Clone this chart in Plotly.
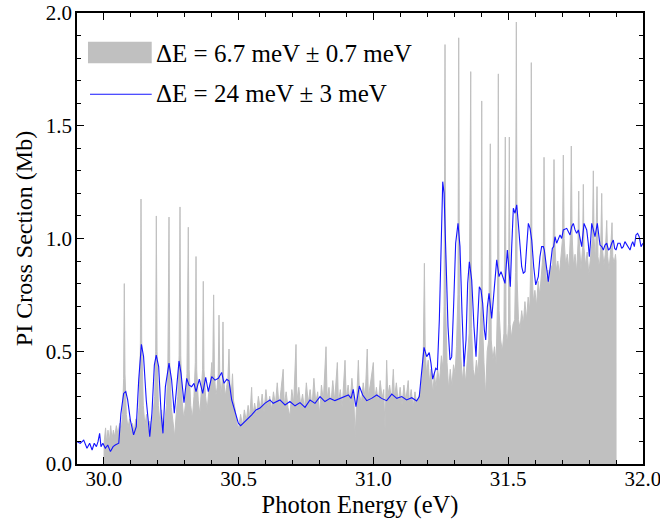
import plotly.graph_objects as go

# ---------------- data (photon energy eV, cross section Mb) ----------------
# High-resolution spectrum (dE = 6.7 meV)
gray_left = [
    (30.000, 0.00), (30.001, 0.10), (30.006, 0.16), (30.010, 0.09), (30.015, 0.15),
    (30.020, 0.10), (30.025, 0.17), (30.030, 0.11), (30.035, 0.15), (30.040, 0.12),
    (30.046, 0.17), (30.052, 0.13), (30.058, 0.18), (30.064, 0.15), (30.069, 0.22),
    (30.073, 0.38), (30.0755, 0.80), (30.078, 0.40), (30.083, 0.22), (30.089, 0.16),
    (30.095, 0.20), (30.100, 0.12), (30.106, 0.18), (30.112, 0.14), (30.118, 0.20),
    (30.124, 0.16), (30.130, 0.25), (30.135, 0.50), (30.1375, 1.175), (30.140, 0.55),
    (30.146, 0.26), (30.152, 0.17), (30.158, 0.22), (30.164, 0.13), (30.170, 0.19),
    (30.176, 0.15), (30.182, 0.22), (30.188, 0.30), (30.192, 0.50), (30.1943, 1.10),
    (30.197, 0.50), (30.202, 0.26), (30.208, 0.18), (30.214, 0.24), (30.220, 0.12),
    (30.226, 0.20), (30.232, 0.26), (30.237, 0.42), (30.2414, 1.095), (30.244, 0.45),
    (30.250, 0.25), (30.256, 0.19), (30.262, 0.12), (30.268, 0.22), (30.274, 0.30),
    (30.279, 0.48), (30.2822, 1.14), (30.285, 0.48), (30.290, 0.28), (30.296, 0.20),
    (30.302, 0.26), (30.308, 0.40), (30.313, 1.05), (30.316, 0.42), (30.322, 0.26),
    (30.328, 0.20), (30.334, 0.30), (30.339, 0.45), (30.3416, 0.92), (30.344, 0.42),
    (30.350, 0.28), (30.356, 0.22), (30.361, 0.32), (30.366, 0.42), (30.3686, 0.81),
    (30.371, 0.42), (30.377, 0.30), (30.383, 0.24), (30.389, 0.32), (30.395, 0.36),
    (30.400, 0.45), (30.403, 0.35), (30.407, 0.75), (30.410, 0.40), (30.415, 0.30),
    (30.420, 0.34), (30.424, 0.40), (30.4269, 0.66), (30.430, 0.38), (30.435, 0.30),
    (30.439, 0.38), (30.4417, 0.63), (30.444, 0.38), (30.450, 0.30), (30.455, 0.34),
    (30.460, 0.38), (30.464, 0.51), (30.467, 0.36), (30.472, 0.30), (30.477, 0.40),
    (30.481, 0.28), (30.487, 0.24), (30.493, 0.18),
]
gray_mid = [
    (30.500, 0.16), (30.507, 0.22), (30.514, 0.17), (30.521, 0.24), (30.528, 0.19),
    (30.535, 0.26), (30.541, 0.20), (30.548, 0.34), (30.552, 0.21), (30.559, 0.27),
    (30.566, 0.22), (30.573, 0.30), (30.580, 0.24), (30.587, 0.31), (30.594, 0.23),
    (30.601, 0.33), (30.608, 0.25), (30.615, 0.30), (30.622, 0.24), (30.629, 0.32),
    (30.636, 0.26), (30.643, 0.36), (30.650, 0.25), (30.657, 0.33), (30.665, 0.42),
    (30.669, 0.26), (30.676, 0.32), (30.683, 0.25), (30.690, 0.21), (30.697, 0.33),
    (30.704, 0.27), (30.7126, 0.53), (30.716, 0.28), (30.723, 0.34), (30.730, 0.26),
    (30.737, 0.31), (30.744, 0.24), (30.751, 0.36), (30.758, 0.27), (30.765, 0.33),
    (30.772, 0.25), (30.779, 0.38), (30.786, 0.27), (30.793, 0.32), (30.800, 0.22),
    (30.807, 0.35), (30.814, 0.28), (30.824, 0.52), (30.828, 0.29), (30.835, 0.34),
    (30.842, 0.26), (30.849, 0.37), (30.856, 0.28), (30.866, 0.45), (30.870, 0.27),
    (30.877, 0.33), (30.884, 0.25), (30.8945, 0.46), (30.899, 0.29), (30.906, 0.35),
    (30.913, 0.27), (30.920, 0.38), (30.927, 0.29), (30.932, 0.12), (30.937, 0.30),
    (30.944, 0.46), (30.948, 0.31), (30.955, 0.27), (30.962, 0.36), (30.969, 0.29),
    (30.977, 0.51), (30.981, 0.30), (30.988, 0.35), (30.9995, 0.45), (31.004, 0.28),
    (31.011, 0.34), (31.018, 0.27), (31.025, 0.37), (31.032, 0.29), (31.038, 0.33),
    (31.043, 0.15), (31.049, 0.46), (31.053, 0.30), (31.060, 0.35), (31.067, 0.28),
    (31.0737, 0.42), (31.078, 0.29), (31.085, 0.36), (31.092, 0.27), (31.099, 0.34),
    (31.106, 0.26), (31.113, 0.35), (31.120, 0.28), (31.129, 0.37), (31.133, 0.27),
    (31.140, 0.33), (31.147, 0.25), (31.154, 0.32), (31.161, 0.26), (31.168, 0.30),
    (31.175, 0.33),
]
gray_right = [
    (31.180, 0.38), (31.185, 0.50), (31.189, 0.89), (31.192, 0.50), (31.197, 0.40),
    (31.203, 0.46), (31.208, 0.36), (31.214, 0.42), (31.220, 0.31), (31.226, 0.40),
    (31.232, 0.34), (31.238, 0.42), (31.245, 0.36), (31.252, 0.48), (31.258, 0.42),
    (31.262, 0.70), (31.2655, 1.86), (31.268, 0.70), (31.273, 0.45), (31.279, 0.33),
    (31.285, 0.42), (31.291, 0.34), (31.297, 0.44), (31.303, 0.40), (31.308, 0.52),
    (31.3135, 0.75), (31.3163, 1.89), (31.319, 0.75), (31.324, 0.48), (31.330, 0.37),
    (31.336, 0.44), (31.342, 0.36), (31.348, 0.46), (31.355, 0.58), (31.3609, 1.74),
    (31.364, 0.60), (31.370, 0.42), (31.376, 0.38), (31.382, 0.46), (31.388, 0.40),
    (31.394, 0.55), (31.3995, 0.70), (31.4017, 1.61), (31.404, 0.65), (31.410, 0.45),
    (31.416, 0.30), (31.422, 0.50), (31.428, 0.55), (31.4336, 1.42), (31.437, 0.55),
    (31.443, 0.46), (31.449, 0.52), (31.455, 0.44), (31.460, 0.70), (31.4633, 1.73),
    (31.466, 0.68), (31.472, 0.55), (31.478, 0.50), (31.484, 0.58), (31.4892, 1.45),
    (31.492, 0.58), (31.497, 0.54), (31.501, 0.62), (31.5041, 1.45), (31.507, 0.62),
    (31.512, 0.56), (31.518, 0.62), (31.524, 0.64), (31.527, 0.85), (31.5301, 1.96),
    (31.533, 0.82), (31.538, 0.64), (31.544, 0.60), (31.550, 0.68), (31.556, 0.62),
    (31.562, 0.72), (31.568, 0.64), (31.574, 0.74), (31.580, 0.68), (31.5835, 0.90),
    (31.5857, 1.78), (31.588, 0.90), (31.593, 0.72), (31.599, 0.77), (31.605, 0.70),
    (31.611, 0.81), (31.617, 0.75), (31.623, 0.83), (31.6305, 0.95), (31.6329, 1.36),
    (31.6355, 0.95), (31.641, 0.80), (31.647, 0.86), (31.653, 0.78), (31.659, 0.88),
    (31.664, 0.84), (31.667, 0.98), (31.6699, 1.35), (31.673, 0.98), (31.678, 0.86),
    (31.684, 0.90), (31.690, 0.84), (31.696, 0.92), (31.7015, 1.00), (31.7045, 1.37),
    (31.7075, 1.00), (31.713, 0.88), (31.719, 0.93), (31.725, 0.86), (31.731, 1.02),
    (31.7341, 1.41), (31.737, 1.02), (31.742, 0.88), (31.748, 0.93), (31.754, 0.85),
    (31.759, 0.98), (31.7616, 1.21), (31.764, 0.98), (31.770, 0.86), (31.776, 0.96),
    (31.7787, 1.24), (31.781, 0.96), (31.787, 0.88), (31.793, 0.94), (31.799, 0.84),
    (31.805, 0.92), (31.8125, 1.00), (31.8158, 1.30), (31.8185, 1.00), (31.824, 0.90),
    (31.8295, 1.23), (31.833, 0.92), (31.838, 0.87), (31.843, 0.95), (31.8469, 1.20),
    (31.850, 0.95), (31.855, 0.88), (31.860, 0.93), (31.8655, 1.08), (31.869, 0.92),
    (31.874, 0.86), (31.879, 0.93), (31.8852, 1.07), (31.888, 0.92), (31.893, 0.89),
    (31.898, 0.93), (31.900, 0.90), (31.9001, 0.00),
]

# Lower-resolution spectrum (dE = 24 meV)
blue_left = [
    (29.900, 0.099), (29.912, 0.092), (29.925, 0.106), (29.937, 0.070), (29.947, 0.092),
    (29.956, 0.062), (29.964, 0.092), (29.972, 0.077), (29.978, 0.099), (29.984, 0.136),
    (29.989, 0.077), (29.996, 0.092), (30.005, 0.070), (30.014, 0.084), (30.024, 0.055),
    (30.034, 0.077), (30.042, 0.084), (30.055, 0.092), (30.063, 0.225), (30.073, 0.313),
    (30.081, 0.321), (30.088, 0.284), (30.098, 0.195), (30.110, 0.129), (30.120, 0.166),
    (30.129, 0.373), (30.139, 0.531), (30.147, 0.476), (30.157, 0.284), (30.170, 0.121),
    (30.178, 0.225), (30.187, 0.439), (30.194, 0.483), (30.203, 0.432), (30.212, 0.225),
    (30.219, 0.136), (30.228, 0.343), (30.2414, 0.447), (30.251, 0.373), (30.261, 0.225),
    (30.270, 0.343), (30.2785, 0.457), (30.286, 0.402), (30.297, 0.272), (30.307, 0.380),
    (30.3156, 0.350), (30.3255, 0.343), (30.334, 0.358), (30.3416, 0.321), (30.3539, 0.376),
    (30.3664, 0.313), (30.3775, 0.384), (30.3873, 0.321), (30.3998, 0.387), (30.412, 0.372),
    (30.4244, 0.380), (30.4369, 0.406), (30.4455, 0.358), (30.4555, 0.376), (30.464, 0.369),
    (30.474, 0.284), (30.4889, 0.225), (30.4986, 0.181), (30.5074, 0.170),
]
blue_mid = [
    (30.5234, 0.188), (30.536, 0.203), (30.5482, 0.218), (30.564, 0.240), (30.579, 0.248),
    (30.598, 0.270), (30.616, 0.284), (30.628, 0.269), (30.653, 0.284), (30.672, 0.262),
    (30.690, 0.277), (30.709, 0.258), (30.7275, 0.272), (30.746, 0.251), (30.7646, 0.284),
    (30.783, 0.269), (30.8017, 0.299), (30.820, 0.277), (30.839, 0.291), (30.857, 0.281),
    (30.876, 0.291), (30.8945, 0.302), (30.907, 0.306), (30.917, 0.291), (30.925, 0.331),
    (30.935, 0.254), (30.9475, 0.346), (30.960, 0.306), (30.975, 0.281), (30.993, 0.291),
    (31.012, 0.306), (31.030, 0.291), (31.049, 0.281), (31.068, 0.310), (31.0865, 0.291),
    (31.105, 0.299), (31.123, 0.284), (31.142, 0.294), (31.1605, 0.280), (31.170, 0.299),
]
blue_right = [
    (31.179, 0.417), (31.1876, 0.517), (31.1975, 0.476), (31.207, 0.494), (31.2135, 0.446),
    (31.2199, 0.376), (31.231, 0.424), (31.237, 0.417), (31.2444, 0.639), (31.2507, 1.008),
    (31.257, 1.252), (31.262, 1.200), (31.2692, 0.934), (31.2766, 0.609), (31.284, 0.461),
    (31.2902, 0.475), (31.2977, 0.712), (31.305, 0.979), (31.3137, 1.067), (31.321, 0.964),
    (31.3286, 0.668), (31.336, 0.432), (31.3434, 0.550), (31.3496, 0.801), (31.3558, 0.897),
    (31.3645, 0.816), (31.373, 0.609), (31.3805, 0.476), (31.3867, 0.639), (31.3928, 0.786),
    (31.399, 0.772), (31.4053, 0.712), (31.4115, 0.594), (31.4165, 0.550), (31.4226, 0.697),
    (31.4288, 0.757), (31.4387, 0.646), (31.4484, 0.786), (31.4573, 0.905), (31.4659, 0.831),
    (31.4733, 0.853), (31.4819, 0.823), (31.4881, 0.801), (31.4968, 0.949), (31.5029, 0.875),
    (31.5078, 0.786), (31.513, 0.964), (31.519, 1.134), (31.5252, 1.112), (31.5315, 1.149),
    (31.5375, 1.067), (31.5438, 0.949), (31.550, 0.875), (31.556, 0.846), (31.5623, 0.853),
    (31.5685, 0.964), (31.5747, 1.067), (31.581, 1.045), (31.5872, 0.993), (31.5946, 0.875),
    (31.602, 0.794), (31.6117, 0.831), (31.6178, 0.920), (31.624, 0.964), (31.6303, 0.964),
    (31.634, 0.949), (31.641, 0.890), (31.6488, 0.809), (31.656, 0.875), (31.6636, 0.956),
    (31.6686, 0.964), (31.6736, 1.008), (31.6797, 0.979), (31.686, 1.000), (31.6922, 1.016),
    (31.6983, 1.000), (31.7045, 1.038), (31.7171, 1.045), (31.7293, 1.016), (31.7355, 1.053),
    (31.7416, 1.067), (31.748, 1.038), (31.754, 1.023), (31.7603, 1.038), (31.7664, 1.008),
    (31.7727, 0.964), (31.7813, 1.067), (31.7913, 1.038), (31.797, 0.979), (31.801, 0.919),
    (31.806, 0.993), (31.8098, 1.067), (31.816, 1.038), (31.822, 1.008), (31.8306, 1.067),
    (31.835, 1.023), (31.8406, 0.971), (31.847, 0.964), (31.853, 0.949), (31.859, 0.971),
    (31.8655, 0.979), (31.872, 0.949), (31.8778, 0.956), (31.884, 0.979), (31.890, 0.993),
    (31.895, 0.956), (31.900, 0.949), (31.907, 0.979), (31.915, 0.979), (31.921, 0.956),
    (31.927, 0.964), (31.933, 0.986), (31.9396, 0.971), (31.946, 0.956), (31.952, 0.949),
    (31.957, 0.971), (31.962, 0.986), (31.968, 0.964), (31.974, 1.016), (31.980, 1.023),
    (31.986, 1.008), (31.9928, 0.964), (32.000, 0.979),
]

label_hi = "ΔE = 6.7 meV ± 0.7 meV"
label_lo = "ΔE = 24 meV ± 3 meV"
x_title = "Photon Energy (eV)"
y_title = "PI Cross Section (Mb)"
x_ticks = [30.0, 30.5, 31.0, 31.5, 32.0]
x_ticktext = ["30.0", "30.5", "31.0", "31.5", "32.0"]

# ---------------- build ----------------
gray = gray_left + gray_mid + gray_right
blue = blue_left + blue_mid + blue_right
gx = [p[0] for p in gray]
gy = [p[1] for p in gray]
bx = [p[0] for p in blue]
by = [p[1] for p in blue]

FONT = "Liberation Serif"
GRAY = "#c0c0c0"
BLUE = "#1414ff"

fig = go.Figure()
fig.add_trace(go.Scatter(x=gx, y=gy, mode="lines", fill="tozeroy",
                         fillcolor=GRAY, line=dict(color=GRAY, width=1),
                         name=label_hi, showlegend=False, hoverinfo="skip"))
fig.add_trace(go.Scatter(x=bx, y=by, mode="lines",
                         line=dict(color=BLUE, width=1.1),
                         name=label_lo, showlegend=False, hoverinfo="skip"))

axis_common = dict(showline=True, linecolor="black", linewidth=1.5, mirror="ticks",
                   ticks="inside", ticklen=7, tickwidth=1.2, tickcolor="black",
                   showgrid=False, zeroline=False, automargin=False,
                   ticklabeloverflow="allow",
                   tickfont=dict(family=FONT, size=21, color="black"))

fig.update_xaxes(range=[29.9, 32.0001], tickmode="array", tickvals=x_ticks,
                 ticktext=x_ticktext,
                 ticklabelstandoff=-5,
                 minor=dict(ticks="inside", ticklen=4, dtick=0.1, tick0=30.0,
                            tickcolor="black", tickwidth=1),
                 title=dict(text=x_title, font=dict(family=FONT, size=24.5, color="black"),
                            standoff=6),
                 **axis_common)
fig.update_yaxes(range=[0, 2.0], tick0=0, dtick=0.5, tickformat=".1f",
                 ticklabelstandoff=-1,
                 minor=dict(ticks="inside", ticklen=4, dtick=0.1, tick0=0,
                            tickcolor="black", tickwidth=1),
                 title=dict(text=y_title, font=dict(family=FONT, size=24, color="black"),
                            standoff=6),
                 **axis_common)

# legend drawn in the upper-left corner
fig.add_shape(type="rect", xref="paper", yref="paper",
              x0=0.0194, x1=0.132, y0=0.8885, y1=0.936,
              fillcolor=GRAY, line=dict(width=0))
fig.add_shape(type="line", xref="paper", yref="paper",
              x0=0.023, x1=0.132, y0=0.820, y1=0.820,
              line=dict(color=BLUE, width=1.1))
fig.add_annotation(xref="paper", yref="paper", x=0.136, y=0.911, text=label_hi,
                   showarrow=False, xanchor="left", yanchor="middle",
                   font=dict(family=FONT, size=25, color="black"))
fig.add_annotation(xref="paper", yref="paper", x=0.136, y=0.8226, text=label_lo,
                   showarrow=False, xanchor="left", yanchor="middle",
                   font=dict(family=FONT, size=25, color="black"))

fig.update_layout(width=660, height=524,
                  margin=dict(l=77, r=17, t=13, b=60),
                  paper_bgcolor="white", plot_bgcolor="white",
                  showlegend=False, hovermode=False)

fig.write_html("out.html", config={"displayModeBar": False},
               post_script="document.body.style.margin='0';document.body.style.overflow='hidden';")
